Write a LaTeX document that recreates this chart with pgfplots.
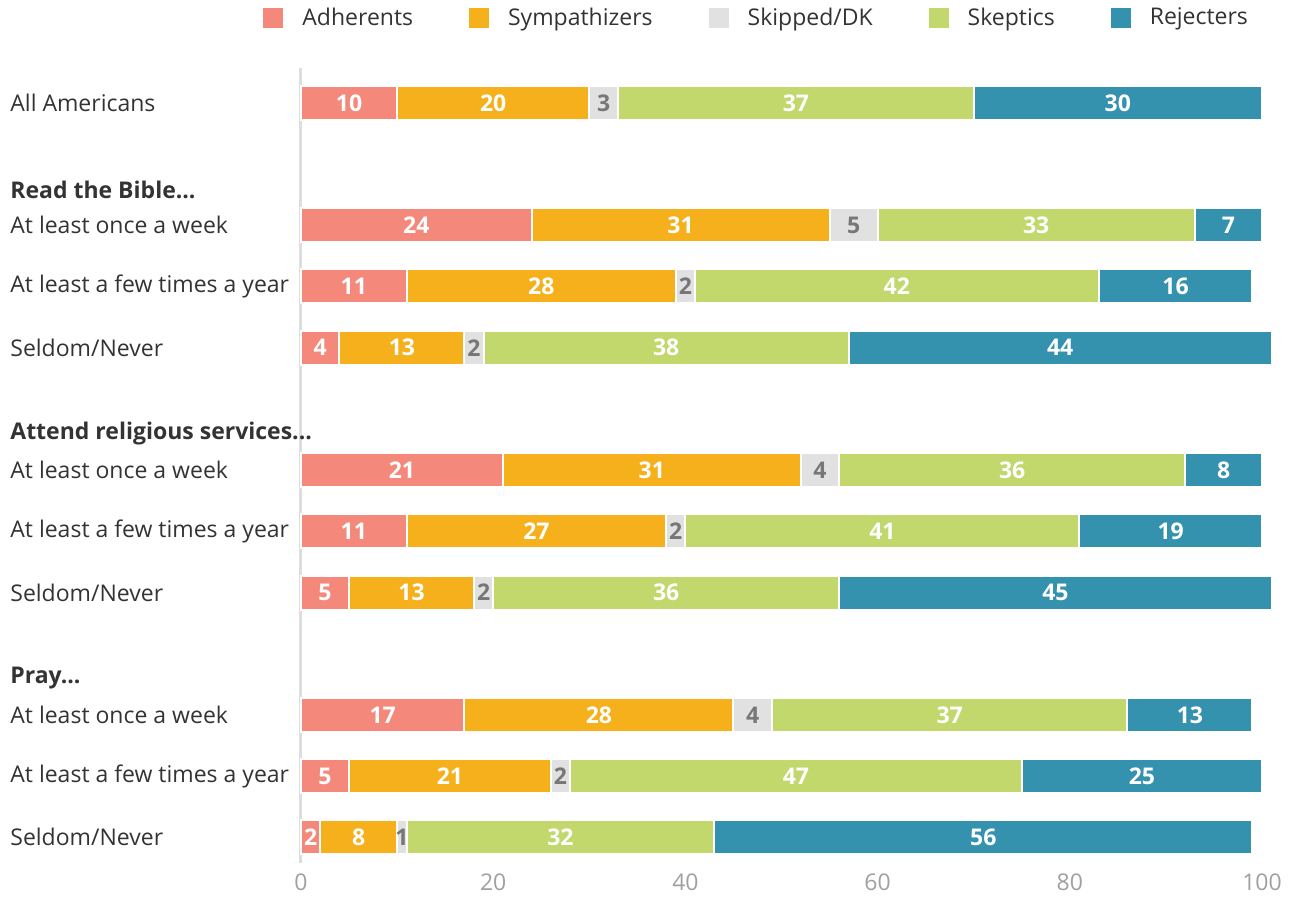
\documentclass[border=0pt]{standalone}
\usepackage{fontspec}
\setmainfont{Open Sans}
\usepackage{pgfplots}
\usepackage{pgfplotstable}
\pgfplotsset{compat=1.18}
\definecolor{cA}{HTML}{F4887A}
\definecolor{cB}{HTML}{F6B01C}
\definecolor{cC}{HTML}{E1E1E1}
\definecolor{cD}{HTML}{C2D76C}
\definecolor{cE}{HTML}{3592AF}
\definecolor{tdark}{HTML}{333333}
\definecolor{tgray}{HTML}{A0A0A0}
\definecolor{lgray}{HTML}{DDDDDD}
\definecolor{sgray}{HTML}{777777}
\newcommand\myfs{\fontsize{11.5}{13.5}\selectfont}
\pgfplotsset{
  lbl/.style={only marks, mark=*, mark size=0pt, mark options={draw=none, fill=none},
    point meta=explicit symbolic, nodes near coords, nodes near coords align=center,
    every node near coord/.append style={anchor=center, inner sep=0pt, font=\bfseries\myfs, text=#1}},
  sqlegend/.style={legend image code/.code={\fill[##1,draw=none] (0pt,-5pt) rectangle (10pt,5pt);}},
}
\tikzset{cat/.style={anchor=west, inner sep=0pt, font=\myfs, text=tdark, xshift=-145.5pt}}

\pgfplotstableread{
y a b c d e
0 10 20 3 37 30
2 24 31 5 33 7
3 11 28 2 42 16
4 4 13 2 38 44
6 21 31 4 36 8
7 11 27 2 41 19
8 5 13 2 36 45
10 17 28 4 37 13
11 5 21 2 47 25
12 2 8 1 32 56
}\tbl

\begin{document}
\begin{tikzpicture}
\begin{axis}[name=ax, scale only axis, width=480.5pt, height=397.5pt,
  xbar stacked, bar width=17pt,
  xmin=0, xmax=100, ymin=-0.57, ymax=12.42, y dir=reverse,
  axis lines*=left,
  x axis line style={draw=none},
  y axis line style={draw=lgray, line width=1.5pt},
  ytick=\empty, xtick={0,20,40,60,80,100}, major tick length=0pt,
  /pgf/number format/assume math mode=true,
  xticklabel style={text=tgray, font=\myfs, inner sep=0pt, anchor=north, yshift=-5pt},
  clip=false,
  legend columns=5, sqlegend,
  legend style={at={(axis description cs:0,1)}, anchor=west, xshift=-19pt, yshift=25pt,
    draw=none, fill=none, inner sep=0pt, font=\myfs, text=tdark,
    /tikz/every odd column/.append style={column sep=7.5pt},
    /tikz/every even column/.append style={column sep=26pt}},
]
\addplot[fill=cA, draw=white, line width=1pt] table[x=a, y=y]{\tbl};
\addplot[fill=cB, draw=white, line width=1pt] table[x=b, y=y]{\tbl};
\addplot[fill=cC, draw=white, line width=1pt] table[x=c, y=y]{\tbl};
\addplot[fill=cD, draw=white, line width=1pt] table[x=d, y=y]{\tbl};
\addplot[fill=cE, draw=white, line width=1pt] table[x=e, y=y]{\tbl};
\legend{Adherents, Sympathizers, Skipped/DK, Skeptics, Rejecters}
\end{axis}
\begin{axis}[at={(ax.south west)}, anchor=south west, scale only axis, width=480.5pt, height=397.5pt,
  xmin=0, xmax=100, ymin=-0.57, ymax=12.42, y dir=reverse, hide axis, clip=false]
\addplot[lbl=white] table[x expr=\thisrow{a}/2, y=y, meta=a]{\tbl};
\addplot[lbl=white] table[x expr=\thisrow{a}+\thisrow{b}/2, y=y, meta=b]{\tbl};
\addplot[lbl=sgray] table[x expr=\thisrow{a}+\thisrow{b}+\thisrow{c}/2, y=y, meta=c]{\tbl};
\addplot[lbl=white] table[x expr=\thisrow{a}+\thisrow{b}+\thisrow{c}+\thisrow{d}/2, y=y, meta=d]{\tbl};
\addplot[lbl=white] table[x expr=\thisrow{a}+\thisrow{b}+\thisrow{c}+\thisrow{d}+\thisrow{e}/2, y=y, meta=e]{\tbl};
\node[cat] at (axis cs:0,0) {All Americans};
\node[cat] at (axis cs:0,1.42) {\bfseries Read the Bible...};
\node[cat] at (axis cs:0,2) {At least once a week};
\node[cat] at (axis cs:0,3) {At least a few times a year};
\node[cat] at (axis cs:0,4) {Seldom/Never};
\node[cat] at (axis cs:0,5.41) {\bfseries Attend religious services...};
\node[cat] at (axis cs:0,6) {At least once a week};
\node[cat] at (axis cs:0,7) {At least a few times a year};
\node[cat] at (axis cs:0,8) {Seldom/Never};
\node[cat] at (axis cs:0,9.40) {\bfseries Pray...};
\node[cat] at (axis cs:0,10) {At least once a week};
\node[cat] at (axis cs:0,11) {At least a few times a year};
\node[cat] at (axis cs:0,12) {Seldom/Never};
\end{axis}
\pgfresetboundingbox
\path[use as bounding box] ([xshift=-150.5pt,yshift=34pt]ax.north west) rectangle ([xshift=16pt,yshift=-16.5pt]ax.south east);
\end{tikzpicture}
\end{document}
